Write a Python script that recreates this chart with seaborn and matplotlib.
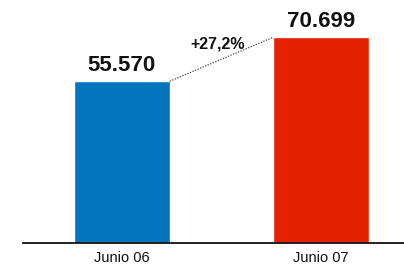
import matplotlib
matplotlib.use("Agg")
import matplotlib.pyplot as plt
import seaborn as sns
import pandas as pd

categories = ["Junio 06", "Junio 07"]
values = [55570, 70699]
value_labels = ["55.570", "70.699"]
change_label = "+27,2%"
colors = ["#0275BE", "#E52200"]

sns.set_style("white")
plt.rcParams["font.family"] = ["Liberation Sans", "DejaVu Sans"]

W, H = 404, 266
fig = plt.figure(figsize=(W / 100, H / 100), dpi=100)
ax = fig.add_axes([23 / W, (H - 243) / H, (W - 23) / W, 243 / H])

df = pd.DataFrame({"cat": categories, "val": values})
sns.barplot(data=df, x="cat", y="val", hue="cat", palette=colors,
            width=0.48, legend=False, ax=ax, saturation=1)

ax.set_xlim(-0.497, 1.417)
ax.set_ylim(0, 83500)
for s in ["left", "right", "top"]:
    ax.spines[s].set_visible(False)
ax.spines["bottom"].set_color("#111111")
ax.spines["bottom"].set_linewidth(1.3)
ax.spines["bottom"].set_zorder(5)
ax.set_yticks([])
ax.set_xlabel("")
ax.set_ylabel("")
ax.tick_params(axis="x", length=0, labelsize=10.5, pad=6, colors="#111111")

patches = ax.patches
for p, lab in zip(patches, value_labels):
    ax.annotate(lab, (p.get_x() + p.get_width() / 2, p.get_height()),
                xytext=(0, 4), textcoords="offset points",
                ha="center", va="bottom", fontsize=16, fontweight="bold",
                color="#111111")

p0, p1 = patches[0], patches[1]
ax.plot([p0.get_x() + p0.get_width(), p1.get_x()],
        [p0.get_height(), p1.get_height()],
        linestyle=(0, (1, 1.2)), color="#444444", linewidth=0.9)
ax.annotate(change_label, (0.48, values[1]), xytext=(0, -4.5),
            textcoords="offset points", ha="center", va="center",
            fontsize=11.5, fontweight="bold", color="#111111")

fig.savefig("out.png", dpi=100)
